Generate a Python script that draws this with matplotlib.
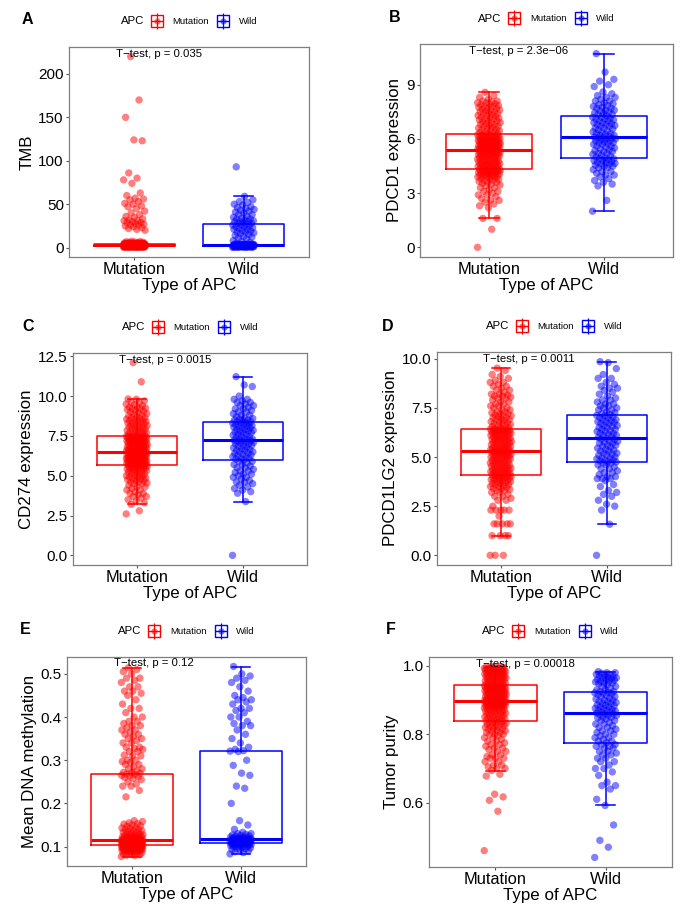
import numpy as np
import matplotlib
matplotlib.use("Agg")
import matplotlib.pyplot as plt
from matplotlib.lines import Line2D
from matplotlib.legend_handler import HandlerTuple

plt.rcParams['font.family'] = ['Liberation Sans', 'DejaVu Sans']

# ---------------- data ----------------
groups = ["Mutation", "Wild"]
group_colors = ["#FF0000", "#0000FF"]
legend_title = "APC"
x_title = "Type of APC"

tmb_mutation = [0.3, 0.4, 0.5, 0.5, 0.6, 0.7, 0.7, 0.8, 0.8, 0.9, 0.9, 1.0, 1.0, 1.1, 1.1, 1.2, 1.2, 1.2, 1.3, 1.3,
                1.4, 1.4, 1.4, 1.5, 1.5, 1.5, 1.6, 1.6, 1.6, 1.7, 1.7, 1.7, 1.8, 1.8, 1.8, 1.9, 1.9, 1.9, 2.0, 2.0,
                2.0, 2.0, 2.1, 2.1, 2.1, 2.2, 2.2, 2.2, 2.3, 2.3, 2.3, 2.4, 2.4, 2.4, 2.4, 2.5, 2.5, 2.5, 2.5, 2.6,
                2.6, 2.6, 2.6, 2.7, 2.7, 2.7, 2.7, 2.8, 2.8, 2.8, 2.8, 2.8, 2.9, 2.9, 2.9, 2.9, 2.9, 3.0, 3.0, 3.0,
                3.0, 3.0, 3.0, 3.1, 3.1, 3.1, 3.1, 3.2, 3.2, 3.2, 3.2, 3.3, 3.3, 3.3, 3.3, 3.4, 3.4, 3.4, 3.5, 3.5,
                3.5, 3.6, 3.6, 3.6, 3.7, 3.7, 3.7, 3.8, 3.8, 3.8, 3.9, 3.9, 3.9, 4.0, 4.0, 4.0, 4.1, 4.1, 4.1, 4.2,
                4.2, 4.4, 4.7, 5.0, 5.3, 5.6, 6.0, 6.5, 7.2,
                20, 22, 24, 25, 26, 27, 28, 29, 30, 31, 32, 36, 38, 40, 45, 47, 50, 51, 55, 56,
                57, 60, 63, 74, 78, 80, 86, 123, 124, 150, 170, 220,
                0.3, 0.4, 0.5, 0.6, 0.6, 0.7, 0.8, 0.9, 1.0, 1.0, 1.1, 1.2, 1.3, 1.3, 1.4, 1.5, 1.6, 1.7, 1.8, 1.9,
                2.05, 2.1, 2.15, 2.2, 2.25, 2.3, 2.35, 2.4, 2.45, 2.5, 2.55, 2.6, 2.65, 2.7, 2.75, 2.8, 2.85, 2.9, 2.95, 2.98,
                3.05, 3.1, 3.15, 3.2, 3.25, 3.3, 3.35, 3.4, 3.45, 3.5, 3.55, 3.6, 3.7, 3.75, 3.8, 3.9, 3.95, 4.0, 4.1, 4.15,
                4.3, 4.5, 4.6, 4.8, 5.1, 5.5, 5.8, 6.2, 6.8, 7.0, 21, 23, 26, 29, 31, 33, 35, 42, 48, 53]
tmb_wild = [0.2, 0.3, 0.4, 0.5, 0.6, 0.7, 0.8, 0.9, 1.0, 1.1, 1.2, 1.3, 1.4, 1.5, 1.6, 1.7, 1.8, 1.8, 1.9, 2.0,
            2.0, 2.1, 2.2, 2.3, 2.4, 2.5, 2.6, 2.7, 2.8, 2.9, 3.0, 3.0, 3.1, 3.2, 3.2, 3.3, 3.3, 3.4, 3.4, 3.5,
            3.5, 4, 5, 6, 8, 10, 12, 13, 15, 16, 17, 18, 19, 20, 21, 22, 23, 24, 25, 26,
            27, 28, 29, 30, 30, 31, 32, 33, 34, 36, 38, 40, 42, 43, 45, 47, 50, 52, 55, 59, 93,
            0.2, 0.4, 0.6, 0.8, 1.0, 1.2, 1.4, 1.5, 1.7, 1.9,
            2.1, 2.3, 2.5, 2.7, 2.9, 3.0, 3.1, 3.2, 3.3, 3.4,
            3.6, 3.8, 4.2, 7, 11, 14, 18, 21, 24, 26,
            28, 30, 33, 35, 38, 41, 44, 46, 49, 53]

pdcd1_mutation = [0.0, 1.0, 1.6, 1.6, 2.2, 2.4, 2.5, 2.6, 2.7, 2.8, 2.9, 3.0, 3.1, 3.2, 3.3, 3.4, 3.5, 3.55, 3.6, 3.65,
                  3.7, 3.75, 3.8, 3.85, 3.9, 3.92, 3.95, 3.98, 4.0, 4.03, 4.06, 4.1, 4.12, 4.15, 4.18, 4.2, 4.23, 4.26, 4.28, 4.3,
                  4.32, 4.35, 4.38, 4.4, 4.43, 4.46, 4.5, 4.52, 4.55, 4.58, 4.6, 4.63, 4.66, 4.7, 4.72, 4.75, 4.78, 4.8, 4.83, 4.86,
                  4.9, 4.93, 4.96, 5.0, 5.02, 5.05, 5.08, 5.1, 5.13, 5.16, 5.18, 5.2, 5.22, 5.25, 5.28, 5.3, 5.32, 5.35, 5.37, 5.38,
                  5.40, 5.42, 5.44, 5.46, 5.48, 5.5, 5.52, 5.54, 5.56, 5.58, 5.6, 5.62, 5.64, 5.66, 5.68, 5.7, 5.72, 5.74, 5.76, 5.78,
                  5.8, 5.82, 5.84, 5.86, 5.88, 5.9, 5.92, 5.94, 5.96, 5.98, 6.0, 6.02, 6.05, 6.08, 6.1, 6.13, 6.16, 6.19, 6.21, 6.23,
                  6.25, 6.3, 6.35, 6.4, 6.45, 6.5, 6.55, 6.6, 6.65, 6.7, 6.75, 6.8, 6.85, 6.9, 6.95, 7.0, 7.05, 7.1, 7.15, 7.2,
                  7.25, 7.3, 7.35, 7.4, 7.45, 7.5, 7.55, 7.6, 7.65, 7.7, 7.75, 7.8, 7.85, 7.9, 7.95, 8.0, 8.05, 8.1, 8.2, 8.4, 8.58,
                  2.3, 2.6, 2.9, 3.1, 3.3, 3.45, 3.6, 3.7, 3.8, 3.9, 3.95, 4.0, 4.05, 4.1, 4.15, 4.2, 4.22, 4.25, 4.28, 4.3,
                  4.36, 4.42, 4.48, 4.54, 4.6, 4.65, 4.7, 4.76, 4.82, 4.88, 4.94, 5.0, 5.06, 5.1, 5.15, 5.2, 5.25, 5.3, 5.34, 5.38,
                  5.43, 5.47, 5.52, 5.57, 5.61, 5.65, 5.7, 5.74, 5.78, 5.83, 5.87, 5.91, 5.95, 6.0, 6.04, 6.08, 6.12, 6.16, 6.2, 6.23,
                  6.3, 6.4, 6.5, 6.6, 6.7, 6.8, 6.9, 7.0, 7.1, 7.2, 7.3, 7.4, 7.5, 7.6, 7.7, 7.8, 7.9, 8.0, 8.1, 8.3]
pdcd1_wild = [2.0, 2.6, 3.4, 3.6, 3.8, 3.9, 4.0, 4.1, 4.2, 4.3, 4.4, 4.5, 4.55, 4.6, 4.65, 4.7, 4.75, 4.8, 4.85, 4.9,
              4.95, 5.0, 5.1, 5.15, 5.2, 5.3, 5.35, 5.4, 5.5, 5.55, 5.6, 5.7, 5.75, 5.8, 5.85, 5.9, 5.95, 6.0, 6.05, 6.08,
              6.10, 6.15, 6.2, 6.25, 6.3, 6.35, 6.4, 6.5, 6.55, 6.6, 6.7, 6.75, 6.8, 6.85, 6.9, 7.0, 7.05, 7.1, 7.15, 7.2,
              7.28, 7.35, 7.4, 7.5, 7.55, 7.6, 7.7, 7.75, 7.8, 7.9, 8.0, 8.1, 8.2, 8.3, 8.4, 8.6, 9.0, 9.2, 9.3, 9.7, 10.72,
              3.5, 3.7, 4.0, 4.2, 4.4, 4.5, 4.6, 4.7, 4.8, 4.9,
              5.05, 5.2, 5.3, 5.45, 5.6, 5.7, 5.8, 5.9, 6.0, 6.05,
              6.2, 6.3, 6.45, 6.6, 6.7, 6.8, 6.9, 7.0, 7.1, 7.2,
              7.35, 7.45, 7.6, 7.7, 7.85, 7.95, 8.1, 8.3, 8.5, 8.9]

cd274_mutation = [2.6, 2.8, 3.2, 3.4, 3.6, 3.7, 3.8, 3.9, 4.0, 4.1, 4.2, 4.3, 4.4, 4.5, 4.55, 4.6, 4.7, 4.75, 4.8, 4.85,
                  4.9, 4.95, 5.0, 5.05, 5.1, 5.15, 5.2, 5.25, 5.3, 5.35, 5.4, 5.42, 5.45, 5.48, 5.5, 5.53, 5.56, 5.6, 5.63, 5.66,
                  5.68, 5.7, 5.72, 5.74, 5.76, 5.78, 5.8, 5.82, 5.84, 5.86, 5.88, 5.9, 5.92, 5.94, 5.96, 5.98, 6.0, 6.02, 6.05, 6.08,
                  6.1, 6.12, 6.15, 6.18, 6.2, 6.22, 6.25, 6.28, 6.3, 6.32, 6.35, 6.37, 6.4, 6.42, 6.44, 6.46, 6.48, 6.49, 6.5, 6.51,
                  6.52, 6.55, 6.58, 6.6, 6.63, 6.66, 6.7, 6.72, 6.75, 6.78, 6.8, 6.83, 6.86, 6.9, 6.92, 6.95, 6.98, 7.0, 7.03, 7.06,
                  7.1, 7.12, 7.15, 7.18, 7.2, 7.22, 7.25, 7.28, 7.3, 7.32, 7.34, 7.36, 7.38, 7.4, 7.42, 7.44, 7.45, 7.46, 7.47, 7.48,
                  7.49, 7.55, 7.6, 7.65, 7.7, 7.75, 7.8, 7.85, 7.9, 7.95, 8.0, 8.05, 8.1, 8.15, 8.2, 8.25, 8.3, 8.35, 8.4, 8.45,
                  8.5, 8.55, 8.6, 8.65, 8.7, 8.8, 8.9, 9.0, 9.1, 9.2, 9.2, 9.25, 9.3, 9.4, 9.5, 9.6, 9.7, 9.8, 9.82, 10.9, 12.1,
                  3.3, 3.5, 3.7, 3.9, 4.1, 4.3, 4.5, 4.6, 4.7, 4.8, 4.9, 5.0, 5.1, 5.2, 5.3, 5.4, 5.5, 5.55, 5.6, 5.65,
                  5.7, 5.74, 5.78, 5.82, 5.86, 5.9, 5.94, 5.98, 6.02, 6.06, 6.1, 6.14, 6.18, 6.22, 6.26, 6.3, 6.35, 6.4, 6.45, 6.5,
                  6.55, 6.6, 6.65, 6.7, 6.75, 6.8, 6.85, 6.9, 6.95, 7.0, 7.05, 7.1, 7.15, 7.2, 7.25, 7.3, 7.35, 7.4, 7.44, 7.47,
                  7.55, 7.65, 7.75, 7.85, 7.95, 8.05, 8.15, 8.25, 8.35, 8.45, 8.55, 8.65, 8.75, 8.85, 8.95, 9.05, 9.15, 9.3, 9.45, 9.6]
cd274_wild = [0.0, 3.38, 4.0, 4.1, 4.3, 4.5, 4.6, 4.7, 4.8, 4.9, 5.0, 5.1, 5.2, 5.3, 5.4, 5.5, 5.6, 5.7, 5.8, 5.9,
              6.0, 6.05, 6.1, 6.2, 6.25, 6.3, 6.4, 6.45, 6.5, 6.6, 6.65, 6.7, 6.8, 6.85, 6.9, 7.0, 7.05, 7.1, 7.15, 7.2,
              7.22, 7.28, 7.3, 7.35, 7.4, 7.5, 7.55, 7.6, 7.7, 7.75, 7.8, 7.85, 7.9, 8.0, 8.05, 8.1, 8.15, 8.2, 8.25, 8.3,
              8.35, 8.4, 8.45, 8.5, 8.55, 8.6, 8.7, 8.8, 8.9, 9.0, 9.1, 9.2, 9.3, 9.4, 9.5, 9.6, 9.7, 9.8, 10.6, 10.7, 11.22,
              3.9, 4.2, 4.4, 4.6, 4.9, 5.1, 5.3, 5.5, 5.7, 5.9,
              6.1, 6.2, 6.35, 6.5, 6.6, 6.75, 6.9, 7.0, 7.1, 7.2,
              7.3, 7.45, 7.6, 7.7, 7.8, 7.9, 8.0, 8.1, 8.2, 8.3,
              8.4, 8.5, 8.6, 8.8, 9.0, 9.2, 9.4, 9.6, 9.8, 10.0]

pdcd1lg2_mutation = [0.0, 0.0, 0.0, 1.0, 1.0, 1.0, 1.0, 1.6, 1.6, 1.6, 1.6, 2.0, 2.3, 2.3, 2.3, 2.3, 2.8, 2.9, 3.0, 3.1,
                     3.2, 3.3, 3.35, 3.4, 3.45, 3.5, 3.55, 3.6, 3.65, 3.7, 3.75, 3.8, 3.85, 3.9, 3.92, 3.95, 3.98, 4.02, 4.05, 4.08,
                     4.10, 4.13, 4.16, 4.2, 4.23, 4.26, 4.3, 4.33, 4.36, 4.4, 4.43, 4.46, 4.5, 4.53, 4.56, 4.6, 4.63, 4.66, 4.7, 4.73,
                     4.76, 4.8, 4.83, 4.86, 4.9, 4.93, 4.96, 5.0, 5.03, 5.06, 5.1, 5.12, 5.15, 5.18, 5.2, 5.22, 5.25, 5.27, 5.29, 5.3,
                     5.31, 5.34, 5.37, 5.4, 5.43, 5.46, 5.5, 5.53, 5.56, 5.6, 5.63, 5.66, 5.7, 5.73, 5.76, 5.8, 5.83, 5.86, 5.9, 5.93,
                     5.96, 6.0, 6.03, 6.06, 6.1, 6.12, 6.15, 6.18, 6.2, 6.22, 6.25, 6.28, 6.3, 6.32, 6.34, 6.36, 6.38, 6.4, 6.42, 6.43,
                     6.44, 6.5, 6.55, 6.6, 6.65, 6.7, 6.75, 6.8, 6.85, 6.9, 6.95, 7.0, 7.05, 7.1, 7.15, 7.2, 7.25, 7.3, 7.4, 7.5,
                     7.6, 7.7, 7.8, 7.9, 8.0, 8.05, 8.1, 8.15, 8.2, 8.3, 8.4, 8.5, 8.6, 8.7, 8.8, 8.9, 9.0, 9.1, 9.2, 9.4, 9.52,
                     1.6, 2.3, 2.5, 2.8, 3.0, 3.2, 3.3, 3.4, 3.5, 3.6, 3.65, 3.7, 3.75, 3.8, 3.85, 3.9, 3.95, 4.0, 4.05, 4.08,
                     4.15, 4.2, 4.25, 4.3, 4.35, 4.4, 4.45, 4.5, 4.6, 4.65, 4.7, 4.8, 4.85, 4.9, 5.0, 5.05, 5.1, 5.15, 5.2, 5.28,
                     5.35, 5.4, 5.45, 5.5, 5.55, 5.6, 5.7, 5.75, 5.8, 5.85, 5.9, 5.95, 6.0, 6.1, 6.15, 6.2, 6.25, 6.3, 6.35, 6.4,
                     6.5, 6.6, 6.7, 6.8, 6.9, 7.0, 7.1, 7.2, 7.3, 7.4, 7.5, 7.6, 7.7, 7.8, 8.0, 8.1, 8.2, 8.4, 8.6, 8.8]
pdcd1lg2_wild = [0.0, 1.58, 2.3, 2.5, 2.8, 3.1, 3.2, 3.5, 3.8, 3.9, 3.9, 4.0, 4.1, 4.2, 4.3, 4.4, 4.5, 4.6, 4.7, 4.75,
                 4.77, 4.8, 4.85, 4.9, 4.95, 5.0, 5.1, 5.15, 5.2, 5.3, 5.35, 5.4, 5.5, 5.55, 5.6, 5.7, 5.75, 5.8, 5.9, 5.95,
                 5.99, 6.05, 6.1, 6.15, 6.2, 6.3, 6.35, 6.4, 6.5, 6.55, 6.6, 6.7, 6.75, 6.8, 6.85, 6.9, 7.0, 7.05, 7.1, 7.12,
                 7.15, 7.2, 7.3, 7.4, 7.5, 7.6, 7.7, 7.8, 7.9, 8.0, 8.1, 8.3, 8.4, 8.5, 8.6, 8.8, 9.0, 9.2, 9.5, 9.8, 9.85,
                 2.6, 3.0, 3.3, 3.6, 3.9, 4.0, 4.2, 4.4, 4.6, 4.7,
                 4.85, 4.95, 5.1, 5.2, 5.3, 5.45, 5.6, 5.7, 5.8, 5.9,
                 6.1, 6.2, 6.3, 6.4, 6.5, 6.6, 6.7, 6.8, 6.9, 7.0,
                 7.25, 7.4, 7.5, 7.6, 7.7, 7.9, 8.2, 8.5, 8.7, 9.0]

methylation_mutation = [0.077, 0.08, 0.082, 0.084, 0.085, 0.087, 0.088, 0.089, 0.09, 0.091, 0.092, 0.093, 0.094, 0.094, 0.095,
                        0.095, 0.096, 0.096, 0.097, 0.097, 0.098, 0.098, 0.098, 0.099, 0.099, 0.099, 0.1, 0.1, 0.1, 0.1,
                        0.101, 0.101, 0.101, 0.101, 0.102, 0.102, 0.102, 0.102, 0.103, 0.103,
                        0.103, 0.104, 0.104, 0.104, 0.105, 0.105, 0.105, 0.106, 0.106, 0.106, 0.107, 0.107, 0.107, 0.108, 0.108,
                        0.108, 0.109, 0.109, 0.109, 0.11, 0.11, 0.11, 0.11, 0.111, 0.111, 0.111, 0.112, 0.112, 0.112, 0.112,
                        0.113, 0.113, 0.113, 0.113, 0.114, 0.114, 0.114, 0.114, 0.114, 0.1145,
                        0.1146, 0.115, 0.116, 0.117, 0.118, 0.119, 0.12, 0.121, 0.122, 0.123, 0.124, 0.125, 0.126, 0.127, 0.128,
                        0.13, 0.132, 0.134, 0.136, 0.138, 0.14, 0.142, 0.145, 0.148, 0.15, 0.153, 0.155, 0.158, 0.16, 0.215,
                        0.23, 0.24, 0.245, 0.25, 0.255, 0.26, 0.262, 0.264, 0.265, 0.267,
                        0.268, 0.27, 0.272, 0.275, 0.28, 0.285, 0.29, 0.295, 0.297, 0.3, 0.31, 0.312, 0.32, 0.325, 0.327,
                        0.33, 0.34, 0.345, 0.35, 0.355, 0.36, 0.365, 0.37, 0.375, 0.38, 0.385, 0.39, 0.4, 0.41, 0.42,
                        0.43, 0.45, 0.455, 0.46, 0.47, 0.48, 0.485, 0.49, 0.505, 0.51, 0.514,
                        0.079, 0.081, 0.083, 0.086, 0.088, 0.09, 0.091, 0.092, 0.093, 0.094, 0.095, 0.096, 0.097, 0.098, 0.099,
                        0.1, 0.1, 0.101, 0.102, 0.102,
                        0.1035, 0.104, 0.105, 0.105, 0.106, 0.107, 0.107, 0.108, 0.109, 0.109, 0.11, 0.11, 0.111, 0.111, 0.112,
                        0.112, 0.113, 0.113, 0.114, 0.114,
                        0.115, 0.116, 0.117, 0.118, 0.119, 0.12, 0.121, 0.122, 0.123, 0.125, 0.127, 0.13, 0.133, 0.137, 0.14,
                        0.143, 0.147, 0.152, 0.24, 0.258,
                        0.272, 0.28, 0.29, 0.3, 0.31, 0.32, 0.33, 0.34, 0.35, 0.36, 0.37, 0.38, 0.39, 0.4, 0.42,
                        0.44, 0.46, 0.47, 0.49, 0.5]
methylation_wild = [0.083, 0.086, 0.09, 0.093, 0.095, 0.097, 0.099, 0.1, 0.101, 0.102, 0.103, 0.104, 0.104, 0.105, 0.105,
                    0.106, 0.107, 0.107, 0.108, 0.108,
                    0.109, 0.11, 0.11, 0.111, 0.111, 0.112, 0.112, 0.113, 0.113, 0.114, 0.114, 0.115, 0.115, 0.115, 0.116,
                    0.116, 0.116, 0.117, 0.117, 0.1175,
                    0.1176, 0.118, 0.119, 0.12, 0.121, 0.122, 0.124, 0.126, 0.128, 0.13, 0.133, 0.16, 0.2, 0.235, 0.24,
                    0.265, 0.27, 0.288, 0.32, 0.321,
                    0.322, 0.325, 0.34, 0.36, 0.37, 0.38, 0.385, 0.39, 0.4, 0.41, 0.415, 0.42, 0.43, 0.435, 0.44,
                    0.445, 0.46, 0.48, 0.49, 0.495, 0.517,
                    0.088, 0.092, 0.096, 0.1, 0.102, 0.104, 0.105, 0.106, 0.107, 0.108,
                    0.1095, 0.11, 0.111, 0.112, 0.113, 0.114, 0.115, 0.116, 0.117, 0.1172,
                    0.118, 0.119, 0.12, 0.122, 0.125, 0.127, 0.13, 0.14, 0.15, 0.3,
                    0.33, 0.35, 0.38, 0.4, 0.42, 0.44, 0.45, 0.47, 0.485, 0.5]

purity_mutation = [0.46, 0.575, 0.607, 0.617, 0.625, 0.678, 0.683, 0.694, 0.7, 0.705, 0.71, 0.72, 0.73, 0.73, 0.735,
                   0.74, 0.75, 0.755, 0.76, 0.765, 0.77, 0.775, 0.78, 0.785, 0.79, 0.795, 0.8, 0.8, 0.805, 0.81,
                   0.812, 0.815, 0.818, 0.82, 0.823, 0.826, 0.829, 0.832, 0.835, 0.837,
                   0.8394, 0.842, 0.845, 0.847, 0.85, 0.852, 0.855, 0.857, 0.86, 0.862, 0.864, 0.866, 0.868, 0.87, 0.872,
                   0.874, 0.876, 0.877, 0.878, 0.88, 0.881, 0.882, 0.883, 0.884, 0.885, 0.886, 0.887, 0.888, 0.889, 0.89,
                   0.891, 0.892, 0.893, 0.894, 0.894, 0.895, 0.895, 0.896, 0.896, 0.897,
                   0.8974, 0.898, 0.899, 0.9, 0.901, 0.902, 0.903, 0.905, 0.906, 0.907, 0.909, 0.91, 0.911, 0.913, 0.914,
                   0.915, 0.917, 0.918, 0.919, 0.92, 0.922, 0.923, 0.924, 0.925, 0.927, 0.928, 0.929, 0.93, 0.931, 0.932,
                   0.933, 0.934, 0.935, 0.936, 0.937, 0.938, 0.939, 0.94, 0.941, 0.942,
                   0.943, 0.945, 0.947, 0.949, 0.95, 0.952, 0.954, 0.955, 0.957, 0.959, 0.96, 0.962, 0.963, 0.965, 0.966,
                   0.968, 0.969, 0.97, 0.972, 0.973, 0.975, 0.976, 0.977, 0.978, 0.98, 0.981, 0.982, 0.984, 0.985, 0.986,
                   0.987, 0.988, 0.989, 0.99, 0.991, 0.992, 0.993, 0.994, 0.995, 0.996, 0.998,
                   0.7, 0.71, 0.72, 0.73, 0.74, 0.75, 0.76, 0.77, 0.78, 0.79, 0.8, 0.805, 0.81, 0.815, 0.82,
                   0.825, 0.83, 0.832, 0.835, 0.838,
                   0.841, 0.844, 0.848, 0.851, 0.854, 0.858, 0.861, 0.865, 0.868, 0.871, 0.874, 0.877, 0.88, 0.883, 0.886,
                   0.889, 0.891, 0.893, 0.895, 0.897,
                   0.899, 0.902, 0.904, 0.906, 0.909, 0.912, 0.914, 0.916, 0.919, 0.921, 0.924, 0.926, 0.928, 0.93, 0.932,
                   0.935, 0.937, 0.939, 0.94, 0.942,
                   0.946, 0.95, 0.953, 0.956, 0.96, 0.963, 0.966, 0.969, 0.972, 0.975, 0.978, 0.981, 0.984, 0.986, 0.988,
                   0.99, 0.992, 0.994, 0.996, 0.997]
purity_wild = [0.44, 0.47, 0.49, 0.535, 0.592, 0.61, 0.64, 0.65, 0.65, 0.69, 0.7, 0.71, 0.72, 0.73, 0.74, 0.745, 0.75,
               0.76, 0.765, 0.77,
               0.7757, 0.78, 0.785, 0.79, 0.795, 0.8, 0.805, 0.81, 0.815, 0.82, 0.825, 0.83, 0.835, 0.84, 0.845, 0.848,
               0.85, 0.855, 0.858, 0.86,
               0.862, 0.865, 0.868, 0.87, 0.873, 0.876, 0.88, 0.883, 0.886, 0.89, 0.893, 0.896, 0.9, 0.903, 0.906, 0.91,
               0.913, 0.916, 0.919, 0.921,
               0.9226, 0.925, 0.93, 0.935, 0.94, 0.945, 0.948, 0.95, 0.953, 0.955, 0.958, 0.96, 0.963, 0.965, 0.967,
               0.97, 0.972, 0.975, 0.978, 0.98, 0.983,
               0.66, 0.68, 0.7, 0.72, 0.73, 0.74, 0.75, 0.76, 0.765, 0.77,
               0.78, 0.79, 0.8, 0.81, 0.82, 0.83, 0.84, 0.85, 0.855, 0.86,
               0.865, 0.87, 0.875, 0.88, 0.885, 0.89, 0.895, 0.9, 0.91, 0.92,
               0.925, 0.93, 0.94, 0.95, 0.955, 0.96, 0.965, 0.97, 0.975, 0.98]

panel_letters = ["A", "B", "C", "D", "E", "F"]
y_titles = ["TMB", "PDCD1 expression", "CD274 expression", "PDCD1LG2 expression",
            "Mean DNA methylation", "Tumor purity"]
p_labels = ["T\u2212test, p = 0.035", "T\u2212test, p = 2.3e\u221206", "T\u2212test, p = 0.0015",
            "T\u2212test, p = 0.0011", "T\u2212test, p = 0.12", "T\u2212test, p = 0.00018"]
y_tick_values = [[0, 50, 100, 150, 200], [0, 3, 6, 9], [0.0, 2.5, 5.0, 7.5, 10.0, 12.5],
                 [0.0, 2.5, 5.0, 7.5, 10.0], [0.1, 0.2, 0.3, 0.4, 0.5], [0.6, 0.8, 1.0]]
y_tick_labels = [["0", "50", "100", "150", "200"], ["0", "3", "6", "9"],
                 ["0.0", "2.5", "5.0", "7.5", "10.0", "12.5"], ["0.0", "2.5", "5.0", "7.5", "10.0"],
                 ["0.1", "0.2", "0.3", "0.4", "0.5"], ["0.6", "0.8", "1.0"]]
panel_data = [(tmb_mutation, tmb_wild), (pdcd1_mutation, pdcd1_wild), (cd274_mutation, cd274_wild),
              (pdcd1lg2_mutation, pdcd1lg2_wild), (methylation_mutation, methylation_wild),
              (purity_mutation, purity_wild)]

# ---------------- layout (pixels: left, top, right, bottom) ----------------
W, H = 685, 914
axes_rects = [(69, 47, 309, 257), (420, 44, 673, 257), (73, 353, 307, 565),
              (437, 352, 671, 565), (67, 657, 306, 866), (429, 657, 672, 867)]
letter_pos = [(22, 20), (389, 18), (22, 327), (382, 327), (20, 630), (386, 630)]

fig = plt.figure(figsize=(W / 100, H / 100), dpi=100)
fig.patch.set_facecolor("white")

spine_col = "#7f7f7f"


def legend_key(color):
    wh = Line2D([], [], marker='|', markersize=12, mec=color, mew=0.9, ls='none')
    box = Line2D([], [], marker='s', markersize=8.5, mfc='white', mec=color, mew=1.0, ls='none')
    med = Line2D([], [], marker='_', markersize=8.5, mec=color, mew=1.0, ls='none')
    dot = Line2D([], [], marker='o', markersize=4.5, mfc=color, mec='none', alpha=0.55, ls='none')
    return (box, wh, med, dot)


for i in range(6):
    l, t, r, b = axes_rects[i]
    ax = fig.add_axes([l / W, 1 - b / H, (r - l) / W, (b - t) / H])
    mut, wild = panel_data[i]
    series = [np.sort(np.asarray(mut, float)), np.sort(np.asarray(wild, float))]

    for k, (vals, col) in enumerate(zip(series, group_colors)):
        bp = ax.boxplot([vals], positions=[k + 1], widths=0.75, showfliers=False,
                        capwidths=[0.17], patch_artist=False, manage_ticks=False,
                        boxprops=dict(color=col, linewidth=1.1),
                        whiskerprops=dict(color=col, linewidth=1.1),
                        capprops=dict(color=col, linewidth=1.1),
                        medianprops=dict(color=col, linewidth=2.2))
        for art in bp['boxes'] + bp['whiskers'] + bp['caps'] + bp['medians']:
            art.set_zorder(2)
        n = len(vals)
        jit = ((np.arange(n) * 0.6180339887) % 1.0 - 0.5) * 0.2
        ax.scatter(k + 1 + jit, vals, s=28, color=col, alpha=0.5, edgecolors='none', zorder=3)

    ax.set_xlim(0.4, 2.6)
    ax.margins(y=0.05)
    ax.set_xticks([1, 2])
    ax.set_xticklabels(groups, fontsize=11.8)
    ax.set_yticks(y_tick_values[i])
    ax.set_yticklabels(y_tick_labels[i], fontsize=11)
    ax.set_ylabel(y_titles[i], fontsize=12.2, labelpad=3)
    ax.set_xlabel(x_title, fontsize=12.2, labelpad=0.5)
    for sp in ax.spines.values():
        sp.set_color(spine_col)
        sp.set_linewidth(0.9)
    ax.tick_params(axis='both', length=2.2, width=0.8, color='#555555', pad=1.5, labelcolor='black')

    ymax = max(series[0].max(), series[1].max())
    ax.text(0.83, ymax, p_labels[i], ha='left', va='baseline', fontsize=8.2, zorder=5)

    # legend
    cx = (l + r) / 2.0
    ly = t - 25.5
    handles = [legend_key(c) for c in group_colors]
    fig.legend(handles, groups, loc='center left',
               bbox_to_anchor=((cx - 38.5) / W, 1 - ly / H), bbox_transform=fig.transFigure,
               ncol=2, frameon=False, borderpad=0, borderaxespad=0, handlelength=1.35,
               handletextpad=1.0, columnspacing=0.8, fontsize=6.8,
               handler_map={tuple: HandlerTuple(ndivide=1)})
    fig.text((cx - 45) / W, 1 - ly / H, legend_title, ha='right', va='center', fontsize=8.2)

    lx, lyy = letter_pos[i]
    fig.text(lx / W, 1 - lyy / H, panel_letters[i], ha='left', va='center',
             fontsize=11.5, fontweight='bold')

fig.savefig("out.png", dpi=100)
